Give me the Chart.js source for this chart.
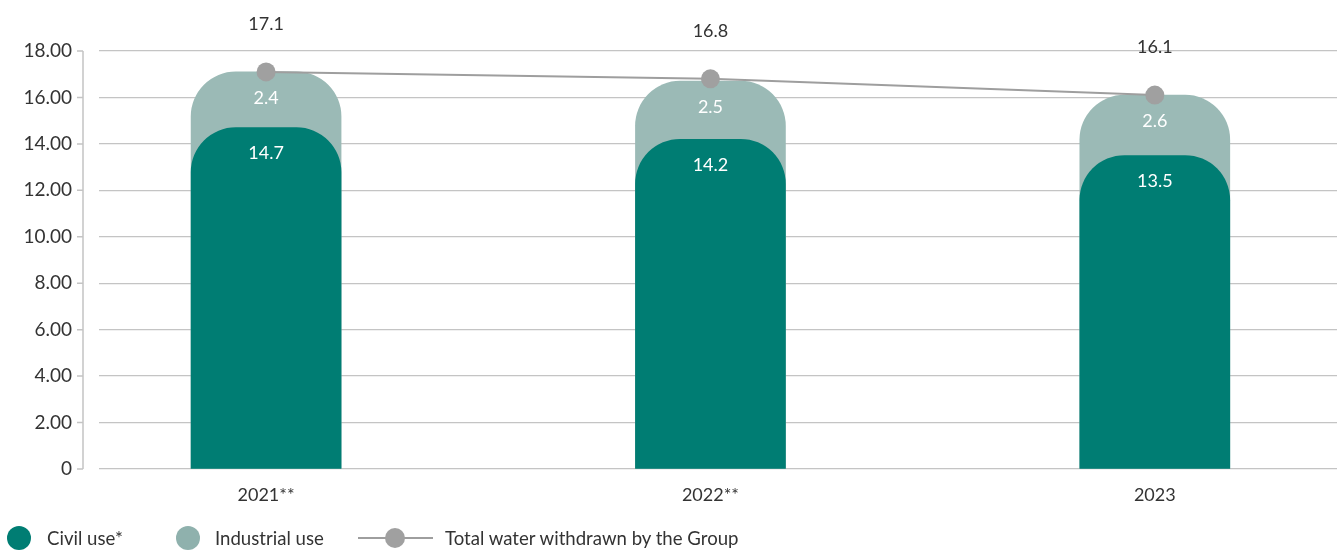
<!DOCTYPE html>
<html>
<head>
<meta charset="utf-8">
<script src="https://cdn.jsdelivr.net/npm/chart.js@4.4.1/dist/chart.umd.min.js"></script>
<style>
  html, body { margin: 0; padding: 0; background: #fff; overflow: hidden; }
  #wrap { position: relative; width: 1337px; height: 554px; }
  canvas { display: block; }
  #legend { position: absolute; left: 0; top: 526px; width: 1337px; height: 24px;
            font-family: Lato, sans-serif; font-size: 18.6px; color: #333; }
  .item { position: absolute; top: 0; line-height: 24px; white-space: nowrap; }
  .dot { position: absolute; width: 24px; height: 24px; border-radius: 50%; top: 0; }
  .line { position: absolute; top: 11px; height: 2px; background: #9e9e9e; }
  .pt { position: absolute; top: 2px; width: 20px; height: 20px; border-radius: 50%; background: #a0a0a0; }
</style>
</head>
<body>
<div id="wrap">
  <canvas id="myChart" width="1337" height="554"></canvas>
  <div id="legend">
    <span class="dot" style="left:7px;background:#007d73"></span>
    <span class="item" style="left:47px">Civil use*</span>
    <span class="dot" style="left:176px;background:#8fb1ad"></span>
    <span class="item" style="left:215px">Industrial use</span>
    <span class="line" style="left:358px;width:75px"></span>
    <span class="pt" style="left:385px"></span>
    <span class="item" style="left:445px">Total water withdrawn by the Group</span>
  </div>
</div>
<script>
// Categories and values
const years = ['2021**', '2022**', '2023'];
const civilUse = [14.7, 14.2, 13.5];
const industrialUse = [2.4, 2.5, 2.6];
const totalWithdrawn = [17.1, 16.8, 16.1];
const yMax = 18;
const yStep = 2;

// Colors
const civilColor = '#007d73';
const industrialColor = '#9bbab6';
const lineColor = '#9e9e9e';
const textColor = '#333333';

// Industrial bar is drawn from 0 to the stack top, behind the civil bar,
// so the rounded corners of the civil bar sit on the light colour
const industrialData = years.map((y, i) => ({ x: i, y: [0, civilUse[i] + industrialUse[i]] }));
const civilData = years.map((y, i) => ({ x: i, y: civilUse[i] }));
const totalData = years.map((y, i) => ({ x: i, y: totalWithdrawn[i] }));

// Value labels inside the bars and above the points
const valueLabels = {
    id: 'valueLabels',
    afterDatasetsDraw(chart) {
        const ctx = chart.ctx;
        ctx.save();
        ctx.font = '18px Lato, sans-serif';
        ctx.textAlign = 'center';
        ctx.textBaseline = 'middle';

        ctx.fillStyle = '#ffffff';
        chart.getDatasetMeta(0).data.forEach((bar, i) => {
            ctx.fillText(civilUse[i].toFixed(1), bar.x, bar.y + 26);
        });
        chart.getDatasetMeta(1).data.forEach((bar, i) => {
            ctx.fillText(industrialUse[i].toFixed(1), bar.x, bar.y + 26);
        });

        ctx.fillStyle = textColor;
        chart.getDatasetMeta(2).data.forEach((pt, i) => {
            ctx.fillText(totalWithdrawn[i].toFixed(1), pt.x, pt.y - 48);
        });
        ctx.restore();
    }
};

// Y axis line, set a bit left of the grid lines, with small tick marks
const leftAxis = {
    id: 'leftAxis',
    beforeDatasetsDraw(chart) {
        const ctx = chart.ctx;
        const area = chart.chartArea;
        const yScale = chart.scales.y;
        const x = area.left - 16;
        ctx.save();
        ctx.strokeStyle = '#c4c4c4';
        ctx.lineWidth = 1.5;
        ctx.beginPath();
        ctx.moveTo(x, area.top);
        ctx.lineTo(x, area.bottom);
        yScale.ticks.forEach(t => {
            const y = yScale.getPixelForValue(t.value);
            ctx.moveTo(x - 6, y);
            ctx.lineTo(x, y);
        });
        ctx.stroke();
        ctx.restore();
    }
};

const ctx = document.getElementById('myChart').getContext('2d');

new Chart(ctx, {
    data: {
        datasets: [
            {
                type: 'bar',
                label: 'Civil use*',
                data: civilData,
                backgroundColor: civilColor,
                borderRadius: { topLeft: 45, topRight: 45, bottomLeft: 0, bottomRight: 0 },
                borderSkipped: 'bottom',
                barThickness: 150,
                grouped: false,
                order: 1
            },
            {
                type: 'bar',
                label: 'Industrial use',
                data: industrialData,
                backgroundColor: industrialColor,
                borderRadius: { topLeft: 45, topRight: 45, bottomLeft: 0, bottomRight: 0 },
                borderSkipped: 'bottom',
                barThickness: 150,
                grouped: false,
                order: 2
            },
            {
                type: 'line',
                label: 'Total water withdrawn by the Group',
                data: totalData,
                borderColor: lineColor,
                borderWidth: 2,
                backgroundColor: '#a0a0a0',
                pointBackgroundColor: '#a0a0a0',
                pointBorderWidth: 0,
                pointRadius: 9.5,
                tension: 0,
                order: 0
            }
        ]
    },
    options: {
        responsive: false,
        animation: false,
        layout: { autoPadding: false, padding: { top: 51, right: 0, bottom: 49, left: 0 } },
        plugins: {
            legend: { display: false },
            tooltip: { enabled: false }
        },
        scales: {
            x: {
                type: 'linear',
                offset: false,
                min: -0.376,
                max: 2.41,
                grid: { display: false, drawTicks: false },
                border: { display: false },
                afterBuildTicks: scale => {
                    scale.ticks = years.map((y, i) => ({ value: i }));
                },
                afterFit: scale => {
                    scale.height = 36;
                    scale.paddingLeft = 0;
                    scale.paddingRight = 0;
                },
                ticks: {
                    padding: 15,
                    maxRotation: 0,
                    color: textColor,
                    font: { family: 'Lato, sans-serif', size: 18 },
                    callback: v => years[v]
                }
            },
            y: {
                min: 0,
                max: yMax,
                afterFit: scale => { scale.width = 99; },
                grid: { color: '#c4c4c4', lineWidth: 1.3, drawTicks: false },
                border: { display: false },
                ticks: {
                    stepSize: yStep,
                    padding: 27,
                    color: textColor,
                    font: { family: 'Lato, sans-serif', size: 19 },
                    callback: v => v === 0 ? '0' : v.toFixed(2)
                }
            }
        }
    },
    plugins: [leftAxis, valueLabels]
});
</script>
</body>
</html>
